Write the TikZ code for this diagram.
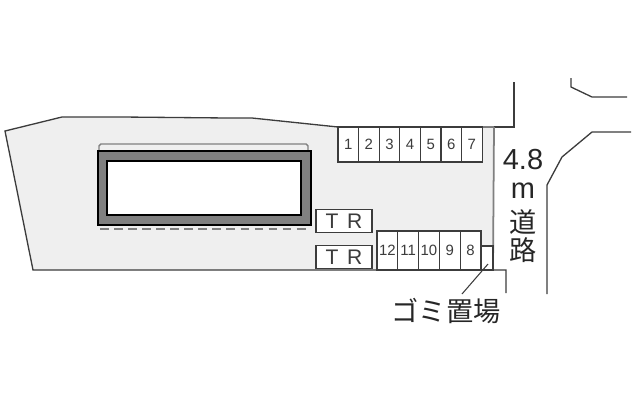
\documentclass[tikz,border=0pt]{standalone}
\usepackage{fontspec}
\setmainfont{Liberation Sans}
\newfontfamily\jpfont{Noto Sans CJK JP}
\usetikzlibrary{positioning}
\definecolor{lotgray}{HTML}{EFEFEF}
\definecolor{wallgray}{HTML}{808080}
\definecolor{linegray}{HTML}{3C3C3C}
\tikzstyle{stall}=[rectangle,draw=linegray,line width=0.6pt,fill=white,inner sep=0pt,
        minimum width=0.412cm,minimum height=0.7cm,text=linegray,font=\fontsize{8.5}{10}\selectfont]
\tikzstyle{stalllow}=[stall,minimum width=0.416cm,minimum height=0.78cm]
\tikzstyle{trans}=[rectangle,draw=linegray,line width=0.6pt,fill=white,inner sep=0pt,
        minimum width=1.12cm,minimum height=0.47cm,text=linegray,font=\fontsize{12}{13}\selectfont]
\tikzstyle{roadtext}=[inner sep=0pt,text=black!85,font=\fontsize{16.5}{18}\selectfont]
\tikzstyle{roadline}=[draw=linegray,line width=0.75pt]
\begin{document}
\begin{tikzpicture}[x=0.02cm,y=-0.02cm]
\useasboundingbox (0,0) rectangle (640,400);
%lot
\fill[lotgray] (5,131) -- (62,117) -- (122,117) -- (228,118) -- (252,118) -- (338,127) -- (494,127) -- (494,270) -- (33,270) -- cycle;
\draw[roadline] (494,127) -- (338,127) -- (252,118) -- (228,118) -- (122,117) -- (62,117) -- (5,131) -- (33,270) -- (506,270) -- (506,293);
\draw[roadline] (494,127) -- (514,127) -- (514,82);
\draw[draw=gray,line width=1pt] (494,127) -- (493,270);
%building
\draw[draw=gray,line width=0.8pt,rounded corners=1pt] (99,151) -- (99,144) -- (308,144) -- (308,151);
\node[rectangle,draw=black,line width=1.2pt,fill=wallgray,inner sep=0pt,minimum width=4.26cm,minimum height=1.48cm] (bldg) at (204.5,188) {};
\node[rectangle,draw=black,line width=1.2pt,fill=white,inner sep=0pt,minimum width=3.88cm,minimum height=1.08cm] (room) at (204,188) {};
\draw[draw=wallgray,line width=1.2pt,dash pattern=on 5pt off 3pt] (bldg.south west)++(3,3) -- ++(208,0);
%stalls
\node[stall] (s1) at (348.3,144.5) {1};
\node[stall] (s2) at (368.9,144.5) {2};
\node[stall] (s3) at (389.5,144.5) {3};
\node[stall] (s4) at (410.1,144.5) {4};
\node[stall] (s5) at (430.7,144.5) {5};
\node[stall] (s6) at (451.3,144.5) {6};
\node[stall] (s7) at (471.9,144.5) {7};
\node[stalllow] (s12) at (387.4,250.5) {12};
\node[stalllow] (s11) at (408.2,250.5) {11};
\node[stalllow] (s10) at (429,250.5) {10};
\node[stalllow] (s9) at (449.8,250.5) {9};
\node[stalllow] (s8) at (470.6,250.5) {8};
\node[trans] (tr1) at (344,221) {T\hspace{1.7pt} R};
\node[trans] (tr2) at (344,257) {T\hspace{1.7pt} R};
%garbage
\node[rectangle,draw=linegray,line width=0.6pt,fill=white,inner sep=0pt,minimum width=0.24cm,minimum height=0.48cm] (gomi) at (487,258) {};
\node[inner sep=0pt,text=black!85,font=\jpfont\fontsize{15.5}{17}\selectfont] (gomilabel) at (446,311) {ゴミ置場};
\coordinate (gomifoot) at (462,294);
\coordinate (gomitip) at (488,264);
\draw[draw=linegray,line width=0.6pt] (gomifoot) -- (gomitip);
%road
\draw[roadline] (571,78) -- (571,87) -- (592,97) -- (627,97);
\draw[roadline] (631,132) -- (592,132) -- (562,157) -- (547,185) -- (547,294);
\node[roadtext] (width) at (523,160) {4.8};
\node[roadtext] (unit) at (523,191) {m};
\node[roadtext,font=\jpfont\fontsize{15.5}{17}\selectfont] (road1) at (523,222) {道};
\node[roadtext,font=\jpfont\fontsize{15.5}{17}\selectfont] (road2) at (523,250) {路};
\end{tikzpicture}
\end{document}
